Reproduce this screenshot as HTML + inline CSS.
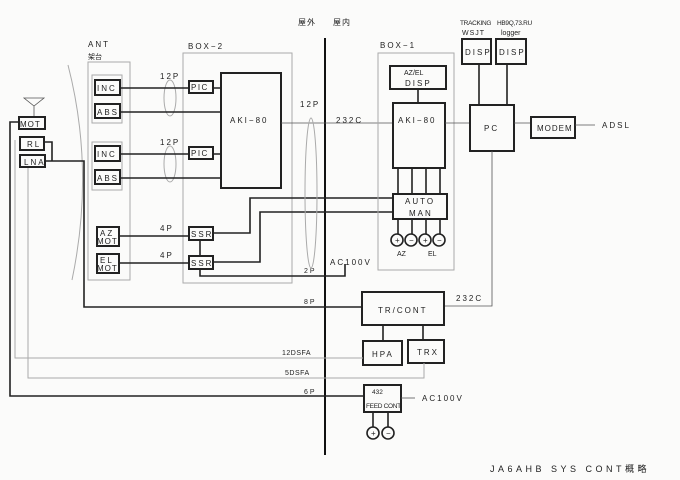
<!DOCTYPE html>
<html><head><meta charset="utf-8"><style>
html,body{margin:0;padding:0;background:#fbfbfa;}
svg{display:block;font-family:"Liberation Sans","Noto Sans CJK JP",sans-serif;}
text{font-size:8px;fill:#222;letter-spacing:2px;}
.b{fill:none;stroke:#222;stroke-width:2;}
.l{fill:none;stroke:#222;stroke-width:1.6;}
.t{fill:none;stroke:#555;stroke-width:0.8;}
.g{fill:none;stroke:#aaa;stroke-width:1;}
</style></head><body>
<svg width="680" height="480" viewBox="0 0 680 480">
<line x1="325" y1="38" x2="325" y2="455" stroke="#111" stroke-width="2"/>
<text x="298" y="25" style="letter-spacing:1px">屋外</text>
<text x="333" y="25" style="letter-spacing:1px">屋内</text>

<path d="M24 98 L44 98 L34 106 Z M34 106 L34 118" class="t"/>
<path d="M68 65 Q95 170 72 280" class="g"/>

<text x="88" y="47">ANT</text>
<text x="88" y="59" style="font-size:7px;letter-spacing:0">架台</text>
<rect x="88" y="62" width="42" height="218" class="g"/>
<rect x="92" y="75" width="30" height="48" class="g"/>
<rect x="92" y="142" width="30" height="48" class="g"/>
<rect x="95" y="80" width="25" height="15" class="b"/><text x="97" y="91">INC</text>
<rect x="95" y="104" width="25" height="14" class="b"/><text x="97" y="115">ABS</text>
<rect x="95" y="146" width="25" height="15" class="b"/><text x="97" y="157">INC</text>
<rect x="95" y="170" width="25" height="14" class="b"/><text x="97" y="181">ABS</text>
<rect x="97" y="227" width="22" height="19" class="b"/><text x="100" y="236">AZ</text><text x="97" y="244" style="letter-spacing:1px">MOT</text>
<rect x="97" y="254" width="22" height="19" class="b"/><text x="100" y="263">EL</text><text x="97" y="271" style="letter-spacing:1px">MOT</text>

<text x="188" y="49">BOX−2</text>
<rect x="183" y="53" width="109" height="230" class="g"/>
<rect x="189" y="81" width="24" height="12" class="b"/><text x="191" y="90" style="letter-spacing:1.5px">PIC</text>
<rect x="189" y="147" width="24" height="12" class="b"/><text x="191" y="156" style="letter-spacing:1.5px">PIC</text>
<rect x="221" y="73" width="60" height="115" class="b"/><text x="230" y="123">AKI−80</text>
<rect x="189" y="227" width="24" height="13" class="b"/><text x="191" y="237">SSR</text>
<rect x="189" y="256" width="24" height="13" class="b"/><text x="191" y="266">SSR</text>
<line x1="200" y1="240" x2="200" y2="256" class="l"/>
<text x="160" y="79">12P</text><text x="160" y="145">12P</text>
<ellipse cx="170" cy="98" rx="6" ry="18" class="g"/>
<ellipse cx="170" cy="164" rx="6" ry="18" class="g"/>
<text x="160" y="231">4P</text><text x="160" y="258">4P</text>
<path d="M120 88 H189 M213 88 H221 M120 112 H221 M120 154 H189 M213 154 H221 M120 178 H221 M119 236 H189 M119 263 H189" class="l"/>
<path d="M213 233 H250 V198 H393 M213 262 H260 V212 H393 M200 269 V276 H345 V264" class="l"/>
<text x="304" y="273" style="font-size:7px">2P</text>
<text x="330" y="265">AC100V</text>

<line x1="281" y1="123" x2="393" y2="123" class="t"/>
<text x="300" y="107">12P</text>
<ellipse cx="311" cy="193" rx="6" ry="75" class="g"/>
<text x="336" y="123">232C</text>

<text x="380" y="48">BOX−1</text>
<rect x="378" y="53" width="76" height="217" class="g"/>
<rect x="390" y="66" width="56" height="23" class="b"/>
<text x="404" y="75" style="font-size:7px;letter-spacing:0">AZ/EL</text><text x="405" y="86">DISP</text>
<line x1="418" y1="89" x2="418" y2="103" class="l"/>
<rect x="393" y="103" width="52" height="65" class="b"/><text x="398" y="123">AKI−80</text>
<path d="M398 168 V194 M412 168 V194 M426 168 V194 M440 168 V194" class="l"/>
<rect x="393" y="194" width="54" height="25" class="b"/><text x="405" y="204">AUTO</text><text x="409" y="216">MAN</text>
<path d="M398 219 V234 M412 219 V234 M426 219 V234 M440 219 V234" class="l"/>
<g class="l" stroke-width="1.2"><circle cx="397" cy="240" r="6"/><circle cx="411" cy="240" r="6"/><circle cx="425" cy="240" r="6"/><circle cx="439" cy="240" r="6"/></g>
<g style="font-size:6px;letter-spacing:0"><text x="395" y="243">+</text><text x="409" y="243">−</text><text x="423" y="243">+</text><text x="437" y="243">−</text></g>
<text x="397" y="256" style="font-size:7px;letter-spacing:0">AZ</text><text x="428" y="256" style="font-size:7px;letter-spacing:0">EL</text>

<text x="460" y="25" style="font-size:6.5px;letter-spacing:-0.3px">TRACKING</text>
<text x="462" y="35" style="font-size:7px;letter-spacing:1px">WSJT</text>
<text x="497" y="25" style="font-size:6.5px;letter-spacing:-0.3px">HB9Q,73.RU</text>
<text x="501" y="35" style="font-size:7px;letter-spacing:0">logger</text>
<rect x="462" y="39" width="29" height="25" class="b"/><text x="465" y="55">DISP</text>
<rect x="496" y="39" width="30" height="25" class="b"/><text x="499" y="55">DISP</text>
<path d="M479 64 V105 M507 64 V105" class="l"/>
<line x1="445" y1="123" x2="470" y2="123" class="t"/>
<rect x="470" y="105" width="44" height="46" class="b"/><text x="484" y="131">PC</text>
<line x1="514" y1="123" x2="531" y2="123" class="t"/>
<rect x="531" y="117" width="44" height="21" class="b"/><text x="537" y="131" style="letter-spacing:1px">MODEM</text>
<line x1="575" y1="125" x2="595" y2="125" class="t"/>
<text x="602" y="128">ADSL</text>
<path d="M492 151 V306 H444" class="t"/>
<text x="456" y="301">232C</text>

<rect x="362" y="292" width="82" height="33" class="b"/><text x="378" y="313">TR/CONT</text>
<path d="M383 325 V341 M423 325 V340" class="l"/>
<rect x="363" y="341" width="39" height="24" class="b"/><text x="372" y="357">HPA</text>
<rect x="408" y="340" width="36" height="23" class="b"/><text x="417" y="355">TRX</text>

<rect x="19" y="117" width="26" height="12" class="b"/><text x="20" y="127" style="letter-spacing:1px">MOT</text>
<rect x="20" y="137" width="24" height="13" class="b"/><text x="27" y="147">RL</text>
<rect x="20" y="155" width="25" height="12" class="b"/><text x="24" y="165">LNA</text>
<path d="M44 142 H52 V161" class="l"/>
<path d="M45 161 H84 V307 H362" class="l"/>
<text x="304" y="304" style="font-size:7px">8P</text>
<path d="M19 122 H10 V396 H364" class="l"/>
<text x="304" y="394" style="font-size:7px">6P</text>
<path d="M15 140 V358 H363" class="g"/>
<path d="M28 168 V378 H424 V363" class="g"/>
<text x="282" y="355" style="font-size:7px;letter-spacing:0.5px">12DSFA</text>
<text x="285" y="375" style="font-size:7px;letter-spacing:0.5px">5DSFA</text>

<rect x="364" y="385" width="37" height="27" class="b"/>
<text x="372" y="394" style="font-size:6.5px;letter-spacing:0">432</text>
<text x="366" y="408" style="font-size:6.5px;letter-spacing:-0.3px">FEED CONT</text>
<line x1="401" y1="398" x2="415" y2="398" class="t"/>
<text x="422" y="401">AC100V</text>
<path d="M373 412 V427 M388 412 V427" class="l"/>
<g class="l" stroke-width="1.2"><circle cx="373" cy="433" r="6"/><circle cx="388" cy="433" r="6"/></g>
<g style="font-size:6px;letter-spacing:0"><text x="371" y="436">+</text><text x="386" y="436">−</text></g>

<text x="490" y="472" style="font-size:9px;letter-spacing:3.5px">JA6AHB SYS CONT概略</text>
</svg>
</body></html>
